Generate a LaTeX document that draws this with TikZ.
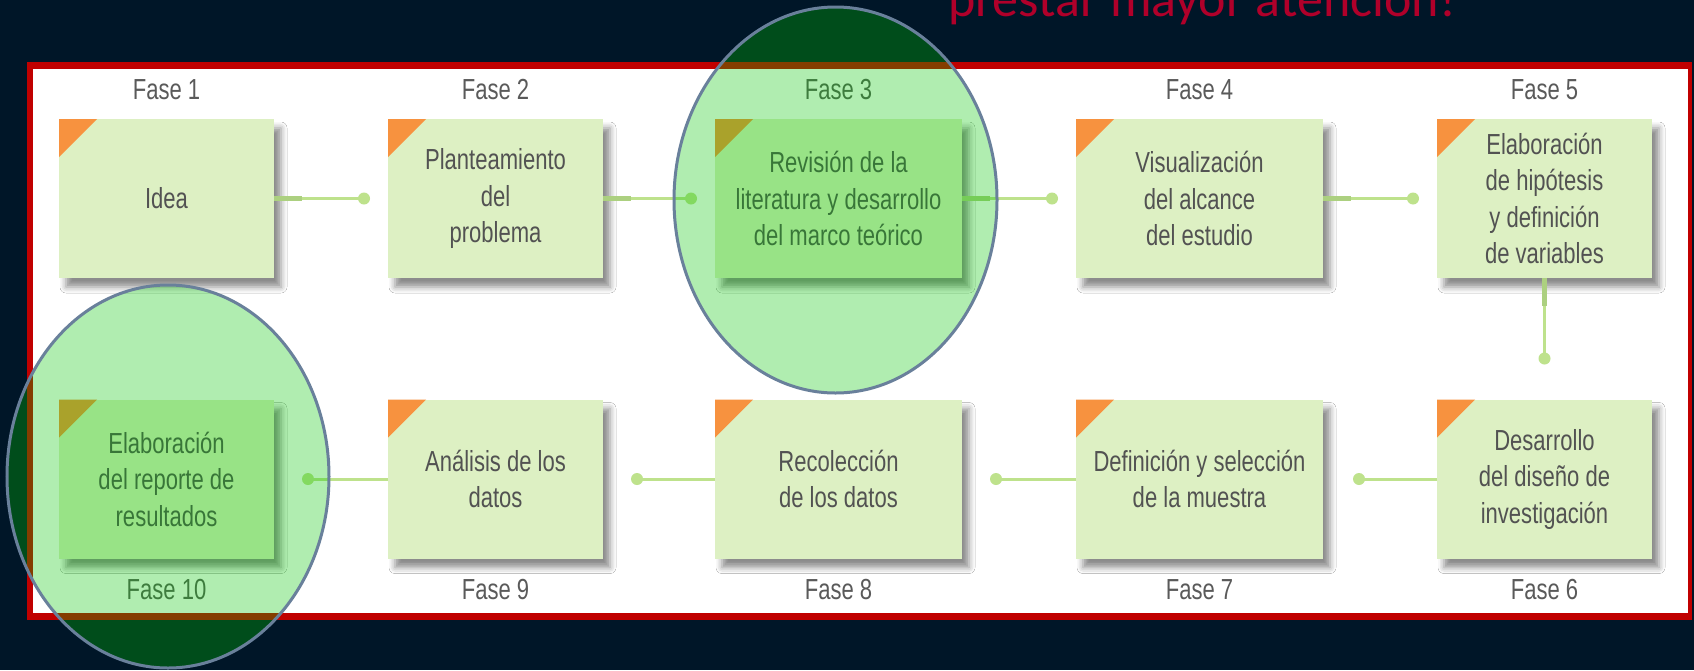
\documentclass[tikz,border=0pt]{standalone}
\usepackage{fontspec}
\setmainfont{Liberation Sans}
\newfontfamily\boxfont[FakeStretch=0.76]{Liberation Sans}
\newfontfamily\titlefont{Carlito}
\usetikzlibrary{calc,shadows.blur}

\definecolor{navy}{RGB}{0,22,40}
\definecolor{framered}{RGB}{192,0,0}
\definecolor{boxfill}{RGB}{221,240,195}
\definecolor{cornerorange}{RGB}{247,146,63}
\definecolor{textgray}{RGB}{82,82,82}
\definecolor{labelgray}{RGB}{90,90,90}
\definecolor{linkgreen}{RGB}{190,226,140}
\definecolor{stubgreen}{RGB}{172,208,128}
\definecolor{hlgreen}{RGB}{0,200,0}
\definecolor{hlstroke}{RGB}{105,128,155}
\definecolor{titlered}{RGB}{176,0,42}

\newcommand{\phasecorner}[1]{%
  \fill[cornerorange] (#1.north west) -- ++(38,0) -- ($(#1.north west)+(0,38)$) -- cycle;}

\begin{document}
\begin{tikzpicture}[x=1pt,y=-1pt,
  phase/.style={rectangle, fill=boxfill, minimum width=#1, minimum height=159pt,
    inner sep=0pt, outer sep=0pt, align=center, text=textgray,
    font=\boxfont\fontsize{29}{36.5}\selectfont,
    blur shadow={shadow xshift=7pt, shadow yshift=-9pt, shadow blur radius=6pt, shadow opacity=45}},
  phase/.default=215pt,
  faselabel/.style={inner sep=0pt, text=labelgray, font=\boxfont\fontsize{29}{34}\selectfont},
  link/.style={draw=linkgreen, line width=3pt},
  linkstub/.style={draw=stubgreen, line width=4.5pt},
  linkdot/.style={fill=linkgreen},
  highlight/.style={draw=hlstroke, line width=3pt, fill=hlgreen, fill opacity=0.31}
]
\useasboundingbox (0,0) rectangle (1694,670);
\clip (0,0) rectangle (1694,670);
\fill[navy] (0,0) rectangle (1694,670);

% title (cut at the top edge)
\node[anchor=base west, inner sep=0pt, text=titlered,
  font=\titlefont\fontsize{52}{58}\selectfont] (title) at (948,16) {prestar mayor atención!};

% frame
\fill[framered] (27,62) rectangle (1692,620);
\fill[white] (33,69) rectangle (1688,613);

% top row
\node[phase] (p1) at (166.5,198.5) {Idea};
\node[phase] (p2) at (495.5,198.5) {Planteamiento\\del\\problema};
\node[phase=247pt] (p3) at (838.5,198.5) {Revisión de la\\literatura y desarrollo\\del marco teórico};
\node[phase=247pt] (p4) at (1199.5,198.5) {Visualización\\del alcance\\del estudio};
\node[phase] (p5) at (1544.5,198.5) {Elaboración\\de hipótesis\\y definición\\de variables};
% bottom row
\node[phase] (p6) at (1544.5,479) {Desarrollo\\del diseño de\\investigación};
\node[phase=247pt] (p7) at (1199.5,479) {Definición y selección\\de la muestra};
\node[phase=247pt] (p8) at (838.5,479) {Recolección\\de los datos};
\node[phase] (p9) at (495.5,479) {Análisis de los\\datos};
\node[phase] (p10) at (166.5,479) {Elaboración\\del reporte de\\resultados};

\foreach \n in {p1,p2,p3,p4,p5,p6,p7,p8,p9,p10}{\phasecorner{\n}}

% phase labels
\node[faselabel] (f1) at (166.5,90) {Fase 1};
\node[faselabel] (f2) at (495.5,90) {Fase 2};
\node[faselabel] (f3) at (838.5,90) {Fase 3};
\node[faselabel] (f4) at (1199.5,90) {Fase 4};
\node[faselabel] (f5) at (1544.5,90) {Fase 5};
\node[faselabel] (f6) at (1544.5,590) {Fase 6};
\node[faselabel] (f7) at (1199.5,590) {Fase 7};
\node[faselabel] (f8) at (838.5,590) {Fase 8};
\node[faselabel] (f9) at (495.5,590) {Fase 9};
\node[faselabel] (f10) at (166.5,590) {Fase 10};

% connectors
\draw[link] (p1.east) -- ($(p2.west)+(-24,0)$) coordinate (d12);
\draw[link] (p2.east) -- ($(p3.west)+(-24,0)$) coordinate (d23);
\draw[link] (p3.east) -- ($(p4.west)+(-24,0)$) coordinate (d34);
\draw[link] (p4.east) -- ($(p5.west)+(-24,0)$) coordinate (d45);
\draw[link] (p5.south) -- ($(p6.north)+(0,-41)$) coordinate (d56);
\draw[link] (p6.west) -- ($(p7.east)+(36,0)$) coordinate (d67);
\draw[link] (p7.west) -- ($(p8.east)+(34,0)$) coordinate (d78);
\draw[link] (p8.west) -- ($(p9.east)+(34,0)$) coordinate (d89);
\draw[link] (p9.west) -- ($(p10.east)+(34,0)$) coordinate (d910);
\foreach \n in {p1,p2,p3,p4}{\draw[linkstub] (\n.east) -- ++(28,0);}
\draw[linkstub] (p5.south) -- ++(0,28);
\foreach \d in {d12,d23,d34,d45,d56,d67,d78,d89,d910}{\fill[linkdot] (\d) circle (6pt);}

% highlight ellipses
\draw[highlight] (835.5,200) ellipse [x radius=161.5pt, y radius=193pt];
\draw[highlight] (168,476.5) ellipse [x radius=161pt, y radius=191.5pt];
\end{tikzpicture}
\end{document}
